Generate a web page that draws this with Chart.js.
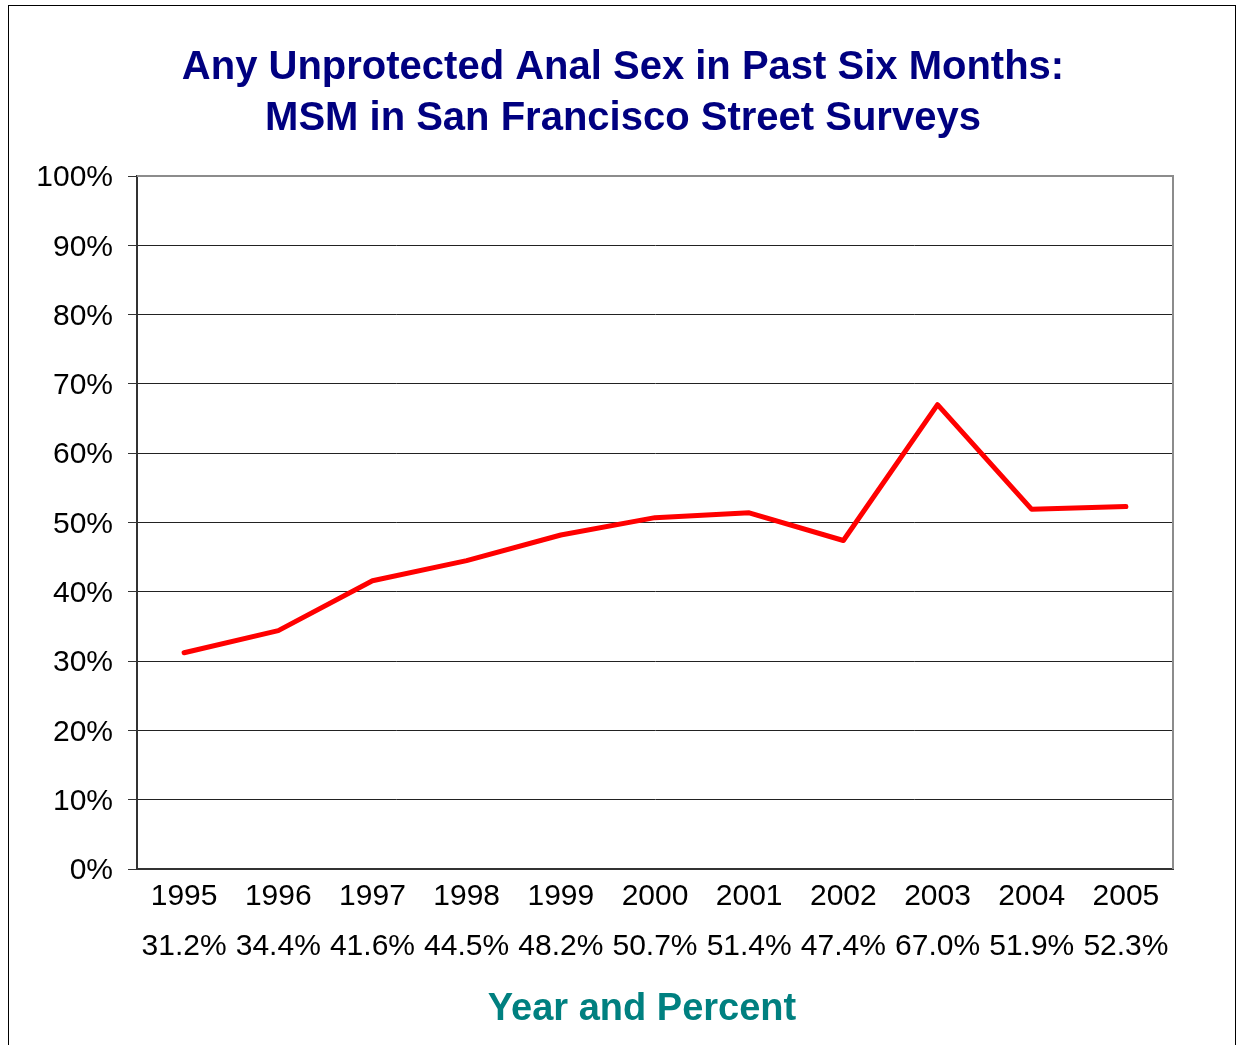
<!DOCTYPE html>
<html>
<head>
<meta charset="utf-8">
<script src="https://cdn.jsdelivr.net/npm/chart.js@4"></script>
<style>
  html, body { margin: 0; padding: 0; background: #fff; }
  #wrap { position: relative; width: 1236px; height: 1045px; overflow: hidden; }
  #frame { position: absolute; left: 8px; top: 5px; width: 1228px; height: 1100px; border: 1px solid #000; box-sizing: border-box; }
  canvas { position: absolute; left: 0; top: 0; }
</style>
</head>
<body>
<div id="wrap">
  <div id="frame"></div>
  <canvas id="c" width="1236" height="1045"></canvas>
</div>
<script>
const years = ['1995','1996','1997','1998','1999','2000','2001','2002','2003','2004','2005'];
const percentLabels = ['31.2%','34.4%','41.6%','44.5%','48.2%','50.7%','51.4%','47.4%','67.0%','51.9%','52.3%'];
const values = [31.2, 34.4, 41.6, 44.5, 48.2, 50.7, 51.4, 47.4, 67.0, 51.9, 52.3];
const titleLines = ['Any Unprotected Anal Sex in Past Six Months:', 'MSM in San Francisco Street Surveys'];
const xAxisTitle = 'Year and Percent';
const yTickStep = 10;

const labels = years.map((y, i) => [y, percentLabels[i]]);
const FONT = '"Liberation Sans", Arial, sans-serif';

const frameAndTitles = {
  id: 'frameAndTitles',
  afterDraw(chart) {
    const { ctx, chartArea: a } = chart;
    ctx.save();
    ctx.strokeStyle = '#8c8c8c';
    ctx.lineWidth = 2;
    ctx.beginPath();
    ctx.moveTo(a.left, a.top);
    ctx.lineTo(a.right, a.top);
    ctx.lineTo(a.right, a.bottom);
    ctx.stroke();
    ctx.textAlign = 'center';
    ctx.textBaseline = 'middle';
    ctx.fillStyle = '#000080';
    ctx.font = 'bold 40px ' + FONT;
    titleLines.forEach((t, i) => ctx.fillText(t, 623, 68 + i * 51));
    ctx.fillStyle = '#008080';
    ctx.font = 'bold 38px ' + FONT;
    ctx.fillText(xAxisTitle, 642, 1010);
    ctx.restore();
  }
};

new Chart(document.getElementById('c'), {
  type: 'line',
  data: {
    labels: labels,
    datasets: [{
      data: values,
      borderColor: '#ff0000',
      borderWidth: 5,
      pointRadius: 0,
      tension: 0,
      fill: false,
      borderCapStyle: 'round',
      borderJoinStyle: 'round'
    }]
  },
  options: {
    responsive: false,
    animation: false,
    devicePixelRatio: 1,
    layout: { padding: { left: 10, right: 63, top: 176, bottom: 0 } },
    plugins: {
      legend: { display: false },
      tooltip: { enabled: false },
      title: { display: false }
    },
    scales: {
      x: {
        offset: true,
        grid: { display: false, drawTicks: false, tickLength: 0 },
        border: { display: true, color: '#333333', width: 2 },
        ticks: {
          autoSkip: false,
          maxRotation: 0,
          minRotation: 0,
          color: '#000',
          padding: 3,
          font: { family: FONT, size: 30, lineHeight: '50px' }
        },
        afterFit(scale) { scale.height = 176; }
      },
      y: {
        min: 0,
        max: 100,
        ticks: {
          stepSize: yTickStep,
          color: '#000',
          padding: 15,
          labelOffset: 2,
          font: { family: FONT, size: 30 },
          callback: v => v + '%'
        },
        grid: {
          color: ctx => (ctx.tick && ctx.tick.value === 100) ? 'rgba(0,0,0,0)' : '#222222',
          tickColor: '#333333',
          lineWidth: 1,
          drawTicks: true,
          tickLength: 9
        },
        border: { display: true, color: '#333333', width: 2 },
        afterFit(scale) { scale.width = 127; }
      }
    }
  },
  plugins: [frameAndTitles]
});
</script>
</body>
</html>
